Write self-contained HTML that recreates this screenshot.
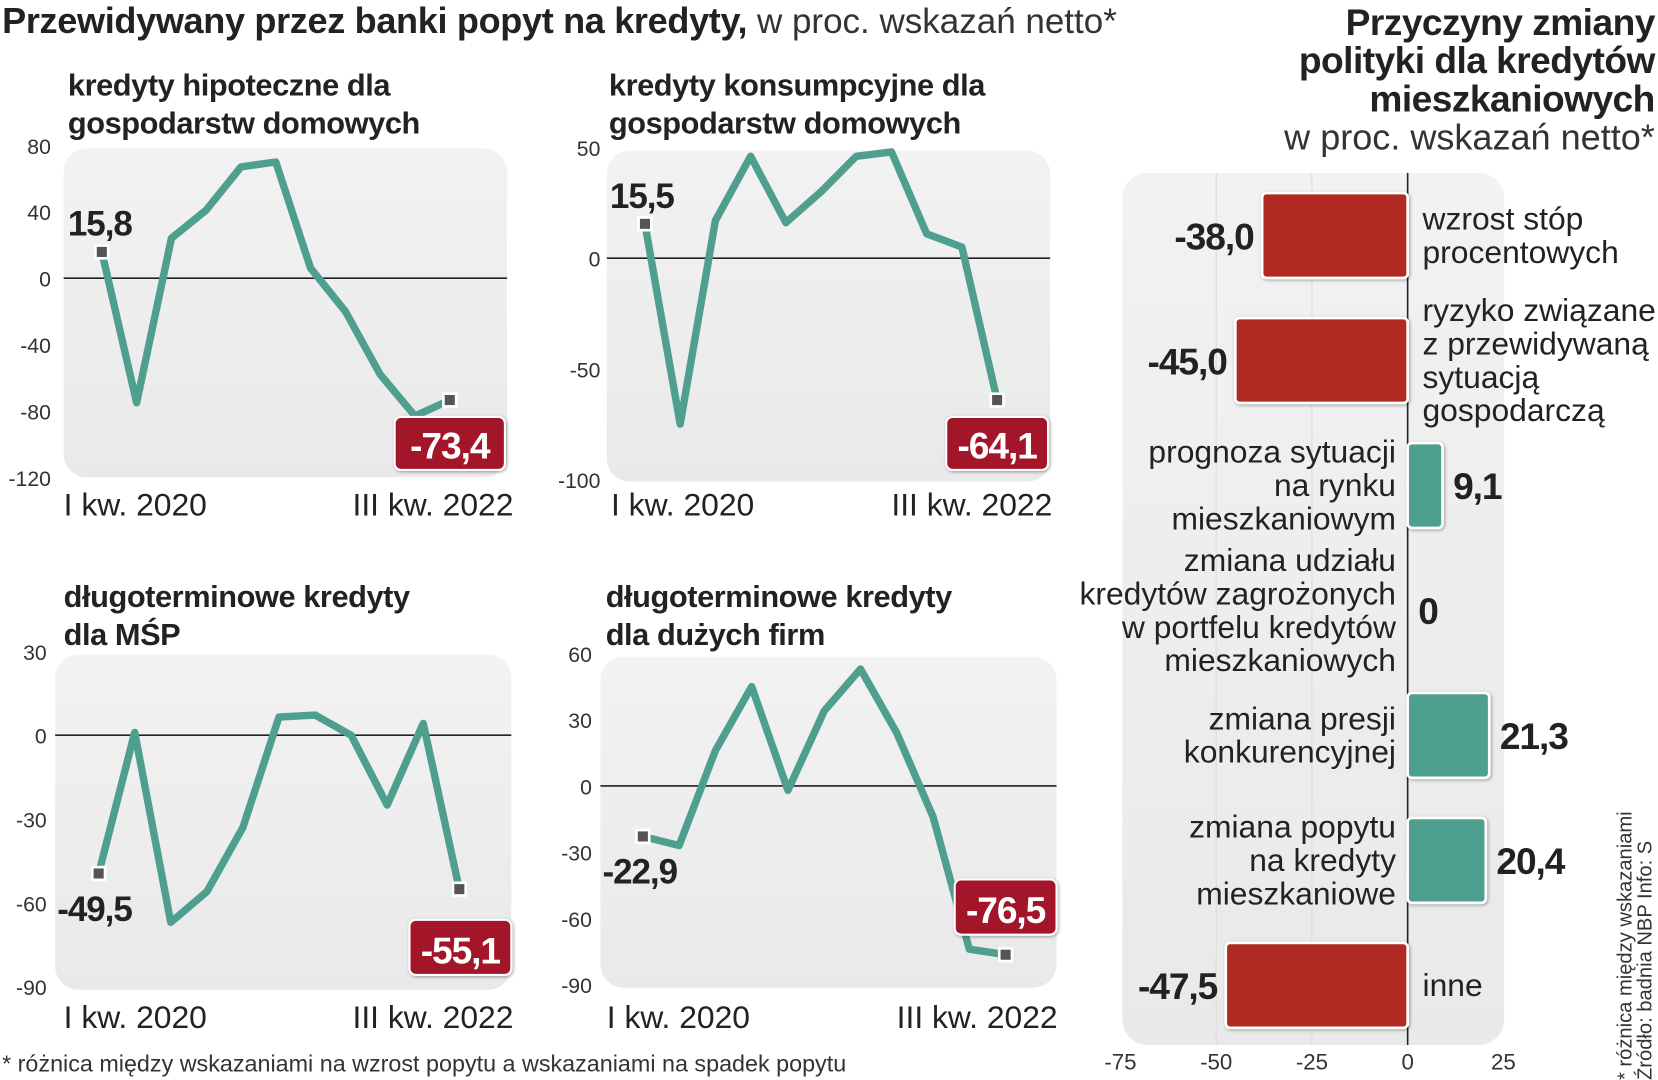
<!DOCTYPE html>
<html><head><meta charset="utf-8">
<style>
html,body{margin:0;padding:0;background:#fff;overflow:hidden;}
svg{display:block;font-family:"Liberation Sans Narrow","Liberation Sans","DejaVu Sans",sans-serif;}
.t{fill:#222;}
</style></head>
<body>
<svg id="c" width="1658" height="1080" viewBox="0 0 1563 1018" preserveAspectRatio="none" xmlns="http://www.w3.org/2000/svg">
<defs>
<linearGradient id="pg" x1="0" y1="0" x2="0" y2="1"><stop offset="0" stop-color="#f2f2f2"/><stop offset="1" stop-color="#e9e9e9"/></linearGradient>
<filter id="sh" x="-10%" y="-10%" width="130%" height="130%"><feDropShadow dx="1" dy="1" stdDeviation="1.5" flood-color="#000" flood-opacity="0.35"/></filter>
</defs>
<text x="2" y="31" font-size="34" font-weight="bold" letter-spacing="-0.3" class="t">Przewidywany przez banki popyt na kredyty,<tspan font-weight="normal" font-family="Liberation Sans" font-size="33" letter-spacing="0" fill="#333"> w proc. wskazań netto*</tspan></text>
<text x="2" y="1010" font-size="22" font-family="Liberation Sans" fill="#333">* różnica między wskazaniami na wzrost popytu a wskazaniami na spadek popytu</text>
<g id="lines"></g>
<g id="bars"></g>
</svg>
<script>
// ---- line chart data ----
const quarters = ["I kw. 2020","II kw. 2020","III kw. 2020","IV kw. 2020","I kw. 2021","II kw. 2021","III kw. 2021","IV kw. 2021","I kw. 2022","II kw. 2022","III kw. 2022"];
const hipoteczne = [15.8,-75,24,41,67,70,6,-20,-58,-83,-73.4];
const konsumpcyjne = [15.5,-75,17,46,16,30,46,48,11,5,-64.1];
const msp = [-49.5,1,-67,-56,-33,6.5,7.2,0,-25,4.2,-55.1];
const duze = [-22.9,-27,16,45,-2,34,53,24,-14,-74,-76.5];
const ticks1 = [80,40,0,-40,-80,-120];
const ticks2 = [50,0,-50,-100];
const ticks3 = [30,0,-30,-60,-90];
const ticks4 = [60,30,0,-30,-60,-90];
// ---- bar chart data ----
const reasons = [["wzrost stóp","procentowych"],["ryzyko związane","z przewidywaną","sytuacją","gospodarczą"],["prognoza sytuacji","na rynku","mieszkaniowym"],["zmiana udziału","kredytów zagrożonych","w portfelu kredytów","mieszkaniowych"],["zmiana presji","konkurencyjnej"],["zmiana popytu","na kredyty","mieszkaniowe"],["inne"]];
const reasonValues = [-38.0,-45.0,9.1,0,21.3,20.4,-47.5];
const barTicks = [-75,-50,-25,0,25];

const NS="http://www.w3.org/2000/svg";
function mk(tag,attrs,parent,txt){const e=document.createElementNS(NS,tag);for(const k in attrs)e.setAttribute(k,attrs[k]);if(txt!==undefined)e.textContent=txt;parent.appendChild(e);return e;}
const fmt=v=>String(v.toFixed(1)).replace('.',',');

const panels=[
 {name:"hipoteczne",title:["kredyty hipoteczne dla","gospodarstw domowych"],tx:64,ty:90,data:hipoteczne,ticks:ticks1,
  box:[60,140,418,310],vmax:80,vmin:-120,ytop:137,ybot:450,x0:96,x1:424,tickX:48,firstLab:[64,222],lastBox:[372,393,104,50],labelA:[60,486],labelB:[484,486]},
 {name:"konsumpcyjne",title:["kredyty konsumpcyjne dla","gospodarstw domowych"],tx:574,ty:90,data:konsumpcyjne,ticks:ticks2,
  box:[572,142,418,312],vmax:50,vmin:-100,ytop:139,ybot:452,x0:608,x1:940,tickX:566,firstLab:[575,196],lastBox:[892,393,96,50],labelA:[576,486],labelB:[992,486]},
 {name:"msp",title:["długoterminowe kredyty","dla MŚP"],tx:60,ty:572,data:msp,ticks:ticks3,
  box:[52,617,430,316],vmax:30,vmin:-90,ytop:614,ybot:930,x0:93,x1:433,tickX:44,firstLab:[54,868],lastBox:[386,867,96,52],labelA:[60,969],labelB:[484,969]},
 {name:"duze-firmy",title:["długoterminowe kredyty","dla dużych firm"],tx:571,ty:572,data:duze,ticks:ticks4,
  box:[566,619,430,312],vmax:60,vmin:-90,ytop:616,ybot:928,x0:606,x1:948,tickX:558,firstLab:[568,833],lastBox:[900,829,96,52],labelA:[572,969],labelB:[997,969]}
];
const LG=document.getElementById('lines');
panels.forEach(p=>{
  const g=mk('g',{},LG);
  
  
  const y=v=>p.ytop+(p.vmax-v)*(p.ybot-p.ytop)/(p.vmax-p.vmin);
  const x=i=>p.x0+i*(p.x1-p.x0)/(p.data.length-1);
  const bg=mk('rect',{x:p.box[0],y:p.box[1],width:p.box[2],height:p.box[3],rx:22,fill:'url(#pg)'},g);
  
  
  p.title.forEach((l,i)=>{const t=mk('text',{x:p.tx,y:p.ty+i*36,'font-size':29,'font-weight':'bold','letter-spacing':-0.4,class:'t'},g,l);
    
    });
  p.ticks.forEach(v=>{const t=mk('text',{x:p.tickX,y:y(v)+8,'font-size':20,'text-anchor':'end','font-family':'Liberation Sans',fill:'#333'},g,String(v));
    
    });
  const zl=mk('line',{x1:p.box[0],x2:p.box[0]+p.box[2],y1:y(0),y2:y(0),stroke:'#222','stroke-width':1.5},g);
  
  
  const pts=p.data.map((v,i)=>x(i).toFixed(1)+','+y(v).toFixed(1)).join(' ');
  const pl=mk('polyline',{points:pts,fill:'none',stroke:'#4f9f8f','stroke-width':7,'stroke-linejoin':'round','stroke-linecap':'round'},g);
  
  
  [0,p.data.length-1].forEach(i=>{
    const m=mk('rect',{x:x(i)-6,y:y(p.data[i])-6,width:12,height:12,fill:'#555',stroke:'#fff','stroke-width':2.5},g);
    
    
  });
  const fl=mk('text',{x:p.firstLab[0],y:p.firstLab[1],'font-size':33,'font-weight':'bold','letter-spacing':-1,class:'t'},g,fmt(p.data[0]));
  
  
  const b=p.lastBox;
  const lb=mk('rect',{x:b[0],y:b[1],width:b[2],height:b[3],rx:6,fill:'#a3122a',stroke:'#fff','stroke-width':2,filter:'url(#sh)'},g);
  
  
  const lt=mk('text',{x:b[0]+b[2]/2,y:b[1]+b[3]-11,'font-size':35,'font-weight':'bold','letter-spacing':-1,'text-anchor':'middle',fill:'#fff'},g,fmt(p.data[p.data.length-1]));
  
  
  const xa=mk('text',{x:p.labelA[0],y:p.labelA[1],'font-size':30,'font-family':'Liberation Sans',fill:'#222'},g,quarters[0]);
  
  
  const xb=mk('text',{x:p.labelB[0],y:p.labelB[1],'font-size':30,'font-family':'Liberation Sans','text-anchor':'end',fill:'#222'},g,quarters[quarters.length-1]);
  
  
});

// ---- bar chart ----
const BG=document.getElementById('bars');
const bx=v=>1327+v*3.61;
const rowY=i=>222+i*117.8;
[["Przyczyny zmiany",33],["polityki dla kredytów",69],["mieszkaniowych",105]].forEach(([s,yy])=>{
  const t=mk('text',{x:1560,y:yy,'font-size':35,'font-weight':'bold','letter-spacing':-0.5,'text-anchor':'end',class:'t'},BG,s);
  
  
});
const sub=mk('text',{x:1560,y:141,'font-size':34,'font-family':'Liberation Sans','text-anchor':'end',fill:'#333'},BG,'w proc. wskazań netto*');


const pbg=mk('rect',{x:1058,y:163,width:360,height:822,rx:24,fill:'url(#pg)'},BG);


barTicks.forEach(v=>{
  if(v!==0&&v>-75&&v<25){const gl=mk('line',{x1:bx(v),x2:bx(v),y1:163,y2:985,stroke:'#dcdcdc','stroke-width':1},BG);
    
    }
  const t=mk('text',{x:bx(v),y:1008,'font-size':21,'font-family':'Liberation Sans','text-anchor':'middle',fill:'#333'},BG,String(v));
  
  
});
const ax=mk('line',{x1:bx(0),x2:bx(0),y1:163,y2:985,stroke:'#222','stroke-width':1.5},BG);


reasonValues.forEach((v,i)=>{
  const cy=rowY(i);
  if(v!==0){
    const r=mk('rect',{x:Math.min(bx(0),bx(v)),y:cy-40,width:Math.abs(bx(v)-bx(0)),height:80,rx:4,fill:v<0?'#b02a20':'#4f9f8f',stroke:'#fff','stroke-width':2.5,filter:'url(#sh)'},BG);
    
    
  }
  const neg=v<0;
  const vl=mk('text',{x:neg?bx(v)-8:Math.max(bx(v),bx(0))+10,y:cy+13,'font-size':35,'font-weight':'bold','letter-spacing':-1,'text-anchor':neg?'end':'start',class:'t'},BG,v===0?'0':fmt(v));
  
  
  const lines=reasons[i];const lh=31.5;
  const y0=cy-(lines.length-1)*lh/2+10;
  lines.forEach((s,j)=>{
    const t=mk('text',{x:neg?1341:1316,y:y0+j*lh,'font-size':30,'font-family':'Liberation Sans','text-anchor':neg?'start':'end',fill:'#222'},BG,s);
    
    
  });
});
const src=mk('text',{x:0,y:0,'font-size':19,'font-family':'Liberation Sans',fill:'#333',transform:'translate(1538,1018) rotate(-90)'},BG);


mk('tspan',{x:0,dy:0},src,'* różnica między wskazaniami');
mk('tspan',{x:0,dy:19},src,'Źródło: badnia NBP   Info: S');
</script>
</body></html>
